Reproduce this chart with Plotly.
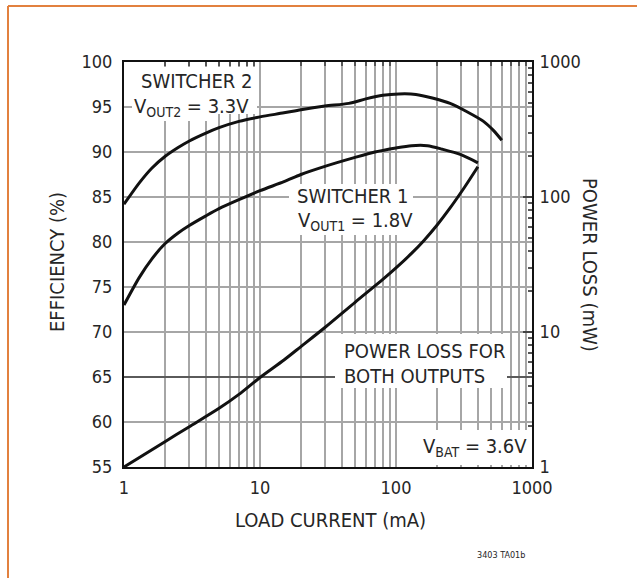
import plotly.graph_objects as go

# ---------------- data ----------------
sw2_current = [1, 1.3, 1.6, 2, 2.5, 3, 4, 5, 7, 10, 15, 20, 30, 45, 60, 80, 105, 140, 185, 250, 330, 440, 520, 600]
sw2_eff = [84.2, 86.6, 88.2, 89.5, 90.5, 91.2, 92.1, 92.7, 93.4, 93.9, 94.35, 94.7, 95.1, 95.4, 95.9, 96.3, 96.45, 96.4, 96.0, 95.4, 94.5, 93.4, 92.4, 91.3]

sw1_current = [1, 1.3, 1.6, 2, 2.5, 3, 4, 5, 7, 10, 15, 20, 30, 50, 70, 100, 130, 170, 220, 300, 400]
sw1_eff = [73.0, 76.1, 78.1, 79.8, 81.0, 81.8, 82.9, 83.7, 84.7, 85.7, 86.7, 87.5, 88.4, 89.4, 90.0, 90.45, 90.7, 90.7, 90.3, 89.7, 88.8]

loss_current = [1, 2, 3, 5, 7, 10, 15, 20, 30, 50, 80, 100, 130, 160, 200, 250, 320, 400]
loss_mw = [1.0, 1.54, 1.98, 2.72, 3.45, 4.6, 6.2, 7.8, 10.8, 16.6, 24.5, 29.8, 38.2, 47.5, 61.8, 83, 118.6, 167.5]

x_major = [1, 10, 100, 1000]
x_minor = [m * d for d in (1, 10, 100) for m in range(2, 10)]
eff_ticks = [55, 60, 65, 70, 75, 80, 85, 90, 95, 100]
dark_grid = [65]
loss_ticks = [1, 10, 100, 1000]
loss_minor = [m * d for d in (1, 10, 100) for m in range(2, 10)]

# ---------------- styling ----------------
FONT = "DejaVu Sans Condensed, Liberation Sans Narrow, Arial Narrow, sans-serif"
TXT = "#262626"
GRID = "#a6a6a6"

# plot-area geometry (pixels)
L, R, T, B = 124, 532, 62, 467
W, H = 637, 578


def px(xp):
    return (xp - L) / (R - L)


def py(yp):
    return (B - yp) / (B - T)


fig = go.Figure()

line_style = dict(color="#111111", width=3, shape="spline", smoothing=0.8)
fig.add_trace(go.Scatter(x=sw2_current, y=sw2_eff, mode="lines", line=line_style,
                         name="Switcher 2", hoverinfo="skip"))
fig.add_trace(go.Scatter(x=sw1_current, y=sw1_eff, mode="lines", line=line_style,
                         name="Switcher 1", hoverinfo="skip"))
fig.add_trace(go.Scatter(x=loss_current, y=loss_mw, mode="lines", line=line_style,
                         name="Power loss", yaxis="y2", hoverinfo="skip"))
# empty traces to register the overlay axes (minor ticks, dark grid line)
fig.add_trace(go.Scatter(x=[], y=[], xaxis="x2", yaxis="y3", showlegend=False, hoverinfo="skip"))
fig.add_trace(go.Scatter(x=[], y=[], yaxis="y4", showlegend=False, hoverinfo="skip"))

x_vals = sorted(x_major + x_minor)
x_text = [str(v) if v in x_major else "" for v in x_vals]

TF = dict(family=FONT, size=18, color=TXT)

fig.update_layout(
    width=W, height=H,
    margin=dict(l=L, r=W - R, t=T, b=H - B, pad=0),
    paper_bgcolor="white", plot_bgcolor="white",
    showlegend=False,
    font=dict(family=FONT, size=20, color=TXT),
    xaxis=dict(type="log", range=[0, 3], tickvals=x_vals, ticktext=x_text,
               showgrid=True, gridcolor=GRID, gridwidth=2,
               showline=True, linecolor="#111", linewidth=2, mirror=True,
               ticks="", ticklabelstandoff=3, zeroline=False, tickfont=TF),
    yaxis=dict(range=[55, 100], tickvals=eff_ticks,
               showgrid=True, gridcolor=GRID, gridwidth=2,
               showline=True, linecolor="#111", linewidth=2, mirror=True,
               ticks="", ticklabelstandoff=6, zeroline=False, tickfont=TF),
    yaxis2=dict(type="log", range=[0, 3], overlaying="y", side="right", anchor="x",
                tickvals=loss_ticks, ticktext=[str(v) for v in loss_ticks],
                showgrid=False, showline=True, linecolor="#111", linewidth=2,
                ticks="inside", ticklen=9, tickwidth=2, tickcolor="#444",
                ticklabelstandoff=2, zeroline=False, tickfont=TF),
    yaxis3=dict(type="log", range=[0, 3], overlaying="y", side="right", anchor="x",
                tickvals=loss_minor, showticklabels=False, showgrid=False,
                showline=False, ticks="inside", ticklen=4, tickwidth=1.5,
                tickcolor="#555", zeroline=False),
    yaxis4=dict(range=[55, 100], overlaying="y", side="left", anchor="x",
                tickvals=dark_grid, showticklabels=False, showgrid=True,
                gridcolor="#5a5a5a", gridwidth=1.5, showline=False, ticks="",
                zeroline=False),
    xaxis2=dict(type="log", range=[0, 3], overlaying="x", side="top", anchor="y",
                tickvals=x_minor, showticklabels=False, showgrid=False,
                showline=False, ticks="inside", ticklen=4, tickwidth=1.5,
                tickcolor="#555", zeroline=False),
)

# white masks behind the in-plot labels (kept clear of the curves)
masks = [
    (132, 257, 67, 114),   # SWITCHER 2 label
    (132, 212, 113, 121),  # SWITCHER 2 label, lower-left part
    (289, 413, 184, 235),  # SWITCHER 1 label
    (335, 507, 334, 388),  # POWER LOSS label
    (420, 530, 430, 465),  # VBAT label
]
shapes = []
for x0, x1, y0, y1 in masks:
    shapes.append(dict(type="rect", xref="paper", yref="paper",
                       x0=px(x0), x1=px(x1), y0=py(y1), y1=py(y0),
                       fillcolor="white", line=dict(width=0), layer="above"))

# orange page border (left and top edges)
ORANGE = "#e2813f"
shapes.append(dict(type="line", xref="paper", yref="paper",
                   x0=px(8), x1=px(8), y0=py(W), y1=py(6),
                   line=dict(color=ORANGE, width=2)))
shapes.append(dict(type="line", xref="paper", yref="paper",
                   x0=px(8), x1=px(650), y0=py(6), y1=py(6),
                   line=dict(color=ORANGE, width=2)))
fig.update_layout(shapes=shapes)


def note(text, x, y, xanchor="center", size=20, angle=0):
    fig.add_annotation(text=text, xref="paper", yref="paper", x=px(x), y=py(y),
                       xanchor=xanchor, yanchor="middle", showarrow=False,
                       textangle=angle, font=dict(family=FONT, size=size, color=TXT))


note("SWITCHER 2", 196, 81)
note("V<sub>OUT2</sub> = 3.3V", 191, 107)
note("SWITCHER 1", 352, 196)
note("V<sub>OUT1</sub> = 1.8V", 355, 221)
note("POWER LOSS FOR", 342, 351, xanchor="left")
note("BOTH OUTPUTS", 342, 376, xanchor="left")
note("V<sub>BAT</sub> = 3.6V", 529, 447, xanchor="right")
note("3403 TA01b", 501, 555, size=9)
note("LOAD CURRENT (mA)", 330, 520, size=20)
note("EFFICIENCY (%)", 57, 262, size=20, angle=-90)
note("POWER LOSS (mW)", 590, 265, size=20, angle=90)

fig.write_html("out.html")
